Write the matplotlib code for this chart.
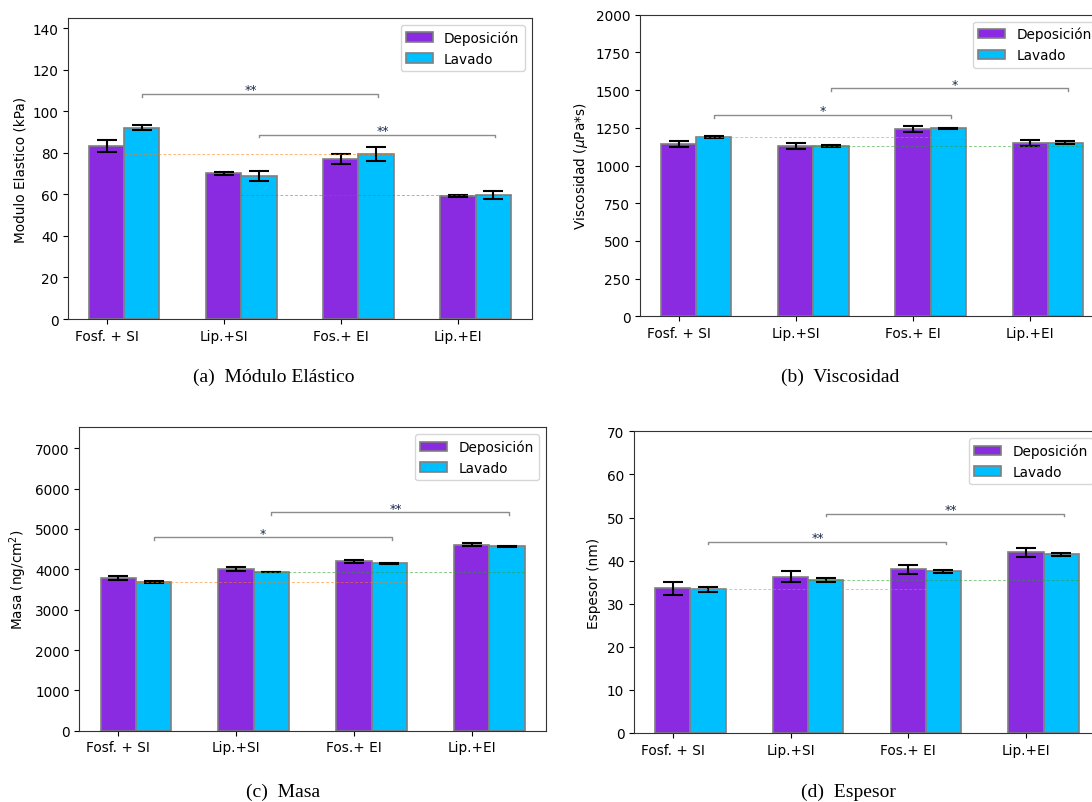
import numpy as np
import matplotlib
matplotlib.use("Agg")
import matplotlib.pyplot as plt

plt.rcParams['font.family'] = ['DejaVu Sans']
plt.rcParams['font.size'] = 9.8

# datos
categorias = ['Fosf. + SI', 'Lip.+SI', 'Fos.+ EI', 'Lip.+EI']
series = ['Deposición', 'Lavado']

modulo_dep = [83.4, 70.1, 77.2, 59.1]
modulo_dep_err = [3.0, 0.9, 2.5, 0.5]
modulo_lav = [92.2, 68.9, 79.4, 59.6]
modulo_lav_err = [1.3, 2.3, 3.3, 2.0]

visc_dep = [1142, 1131, 1242, 1151]
visc_dep_err = [22, 19, 23, 20]
visc_lav = [1189, 1129, 1246, 1151]
visc_lav_err = [5, 8, 3, 10]

masa_dep = [3785, 4001, 4199, 4611]
masa_dep_err = [45, 45, 40, 40]
masa_lav = [3686, 3934, 4150, 4571]
masa_lav_err = [15, 10, 10, 15]

esp_dep = [33.6, 36.3, 38.0, 41.9]
esp_dep_err = [1.5, 1.25, 1.05, 1.1]
esp_lav = [33.3, 35.5, 37.5, 41.5]
esp_lav_err = [0.5, 0.4, 0.35, 0.35]

# significancia: (grupo inicio, grupo fin), altura del corchete, texto
sig_modulo = [(0, 2, 108.4, '**'), (1, 3, 88.8, '**')]
sig_visc = [(0, 2, 1335, '*'), (1, 3, 1512, '*')]
sig_masa = [(0, 2, 4794, '*'), (1, 3, 5414, '**')]
sig_esp = [(0, 2, 44.4, '**'), (1, 3, 50.9, '**')]

W, H = 1092, 803
fig = plt.figure(figsize=(W / 100, H / 100), dpi=100)


def caja(x0, y0, x1, y1):
    return [x0 / W, 1 - y1 / H, (x1 - x0) / W, (y1 - y0) / H]


def panel(rect, dep, dep_err, lav, lav_err, ylabel, ymax, yticks, sig, caption, cap_xy):
    ax = fig.add_axes(rect)
    x = np.arange(len(categorias))
    w = 0.3
    ax.bar(x, dep, w, yerr=dep_err, color='#8A2BE2', edgecolor='#7f7f7f',
           linewidth=1.2, capsize=7.5, error_kw=dict(elinewidth=1.5, capthick=1.5, ecolor='black'),
           label=series[0], zorder=2)
    ax.bar(x + w, lav, w, yerr=lav_err, color='#00BFFF', edgecolor='#7f7f7f',
           linewidth=1.2, capsize=7.5, error_kw=dict(elinewidth=1.5, capthick=1.5, ecolor='black'),
           label=series[1], zorder=2)

    # lineas de referencia entre lavados
    for i, c in zip([0, 1], ['C1', 'C2']):
        yref = min(lav[i], lav[i + 2])
        ax.plot([x[i] + w / 2, x[i + 2] + 1.5 * w], [yref, yref], color=c,
                lw=0.7, ls=(0, (3, 2)), alpha=0.55, zorder=3)

    # corchetes de significancia
    d = 0.009 * ymax
    for k, (a, b, yb, txt) in enumerate(sig):
        xa, xb = x[a] + 0.3, x[b] + 0.32
        ax.plot([xa, xa, xb, xb], [yb - d, yb, yb, yb - d], color='#8c8c8c', lw=1.0, zorder=3)
        shift = -0.08 if k == 0 else 0.05
        ax.text((xa + xb) / 2 + shift, yb + 0.002 * ymax, txt, ha='center', va='baseline',
                fontsize=9, color='#1a2a4a')

    ax.set_xticks(x)
    ax.set_xticklabels(categorias)
    ax.set_ylim(0, ymax)
    ax.set_yticks(yticks)
    ax.set_ylabel(ylabel)
    for s in ax.spines.values():
        s.set_color('#333333')
    ax.legend(loc='upper right', fontsize=9.8)

    fig.text(cap_xy[0] / W, 1 - cap_xy[1] / H, caption, ha='center', va='center',
             fontsize=14, family='Liberation Serif')
    return ax


panel(caja(68.2, 19, 531.7, 320), modulo_dep, modulo_dep_err, modulo_lav, modulo_lav_err,
      'Modulo Elastico (kPa)', 145, np.arange(0, 141, 20), sig_modulo,
      '(a)  Módulo Elástico', (274, 377))

panel(caja(640, 15.7, 1104, 317.3), visc_dep, visc_dep_err, visc_lav, visc_lav_err,
      r'Viscosidad ($\mu$Pa*s)', 2000, np.arange(0, 2001, 250), sig_visc,
      '(b)  Viscosidad', (840, 377))

panel(caja(79.4, 428.3, 546, 731.7), masa_dep, masa_dep_err, masa_lav, masa_lav_err,
      r'Masa (ng/cm$^2$)', 7520, np.arange(0, 7001, 1000), sig_masa,
      '(c)  Masa', (283, 792))

panel(caja(634, 432.3, 1100, 734), esp_dep, esp_dep_err, esp_lav, esp_lav_err,
      'Espesor (nm)', 70, np.arange(0, 71, 10), sig_esp,
      '(d)  Espesor', (848, 792))

fig.savefig('out.png', dpi=100)
